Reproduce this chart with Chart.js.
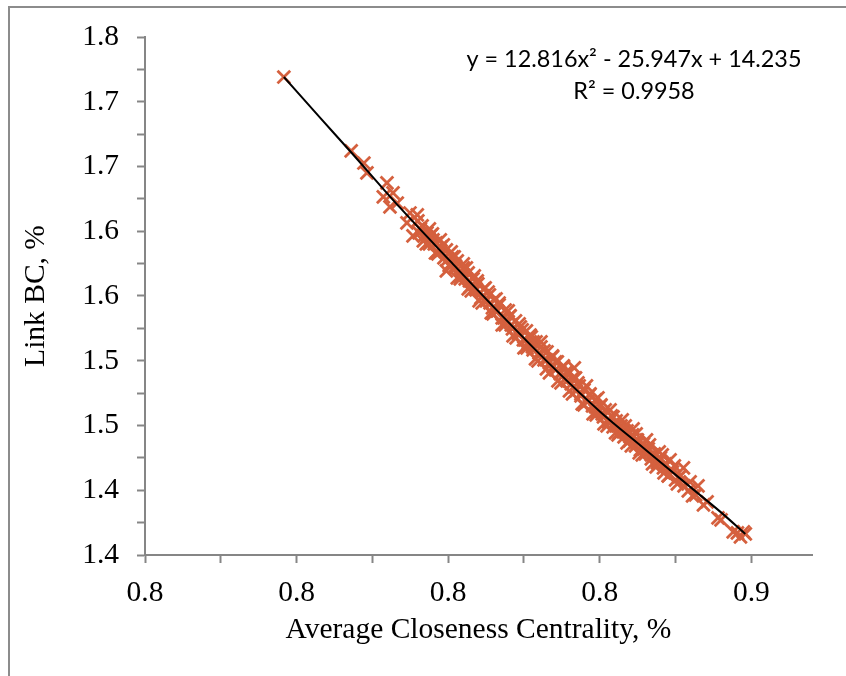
<!DOCTYPE html>
<html>
<head>
<meta charset="utf-8">
<script src="https://cdn.jsdelivr.net/npm/chart.js@4.4.1/dist/chart.umd.min.js"></script>
<style>
  html, body { margin: 0; padding: 0; background: #fff; }
  #wrap { position: relative; width: 846px; height: 676px; overflow: hidden; }
  #frame { position: absolute; left: 8px; top: 6px; right: -10px; bottom: -10px;
           border-left: 2px solid #8c8c8c; border-top: 2px solid #8c8c8c; }
  canvas { position: absolute; left: 0; top: 0; }
</style>
</head>
<body>
<div id="wrap">
  <div id="frame"></div>
  <canvas id="chart" width="846" height="676"></canvas>
</div>
<script>
// tick labels as printed on the axes (rounded to one decimal)
const xTickLabels = ['0.8', '0.8', '0.8', '0.8', '0.9'];
const yTickLabels = ['1.4', '1.4', '1.5', '1.5', '1.6', '1.6', '1.7', '1.7', '1.8'];

// Average closeness centrality (x) and link BC (y)
const closeness = [
  0.8229, 0.8340, 0.8361, 0.8366, 0.8399, 0.8409, 0.8393, 0.8404, 0.8416, 0.8437, 0.8432, 0.8442, 0.8465, 0.8475,
  0.8450, 0.8452, 0.8457, 0.8460, 0.8469, 0.8472, 0.8480, 0.8482, 0.8488, 0.8493, 0.8497, 0.8502, 0.8507, 0.8512,
  0.8515, 0.8520, 0.8525, 0.8528, 0.8533, 0.8536, 0.8541, 0.8546, 0.8549, 0.8554, 0.8559, 0.8563, 0.8568, 0.8573,
  0.8576, 0.8581, 0.8584, 0.8589, 0.8594, 0.8597, 0.8602, 0.8606, 0.8611, 0.8615, 0.8619, 0.8624, 0.8629, 0.8632,
  0.8637, 0.8640, 0.8645, 0.8650, 0.8653, 0.8658, 0.8663, 0.8667, 0.8672, 0.8677, 0.8680, 0.8685, 0.8690, 0.8693,
  0.8698, 0.8703, 0.8706, 0.8711, 0.8708, 0.8716, 0.8719, 0.8724, 0.8729, 0.8733, 0.8738, 0.8743, 0.8746, 0.8751,
  0.8756, 0.8759, 0.8764, 0.8769, 0.8772, 0.8777, 0.8782, 0.8785, 0.8790, 0.8795, 0.8799, 0.8804, 0.8809, 0.8812,
  0.8817, 0.8822, 0.8825, 0.8830, 0.8835, 0.8840, 0.8845, 0.8850, 0.8855, 0.8858, 0.8863, 0.8868, 0.8875, 0.8883,
  0.8889, 0.8899, 0.8896, 0.8908, 0.8921, 0.8927, 0.8945, 0.8950, 0.8970, 0.8977, 0.8987, 0.8982, 0.8990,
  0.8454, 0.8465, 0.8477, 0.8488, 0.8500, 0.8512, 0.8523, 0.8535, 0.8546, 0.8558, 0.8569, 0.8581, 0.8592, 0.8604,
  0.8615, 0.8627, 0.8639, 0.8650, 0.8662, 0.8673, 0.8685, 0.8696, 0.8708, 0.8719, 0.8731, 0.8743, 0.8754, 0.8766,
  0.8777, 0.8789, 0.8800, 0.8812, 0.8823, 0.8835, 0.8846, 0.8858, 0.8870, 0.8881,
  0.8449, 0.8459, 0.8469, 0.8479, 0.8487, 0.8497, 0.8505, 0.8515, 0.8525, 0.8533, 0.8543, 0.8551, 0.8561, 0.8571,
  0.8579, 0.8589, 0.8599, 0.8607, 0.8617, 0.8625, 0.8635, 0.8644, 0.8653, 0.8662, 0.8672, 0.8681, 0.8690, 0.8700,
  0.8710, 0.8721, 0.8728, 0.8739, 0.8747, 0.8757, 0.8767, 0.8776, 0.8787, 0.8795, 0.8805, 0.8815, 0.8827, 0.8837,
  0.8848, 0.8856, 0.8866, 0.8878, 0.8888, 0.8903, 0.8912,
  0.8464, 0.8474, 0.8483, 0.8492, 0.8502, 0.8510, 0.8520, 0.8530, 0.8538, 0.8548, 0.8556, 0.8566, 0.8574, 0.8584,
  0.8594, 0.8602, 0.8612, 0.8622, 0.8630, 0.8640, 0.8648, 0.8658, 0.8667, 0.8677, 0.8686, 0.8695, 0.8705, 0.8714,
  0.8724, 0.8734, 0.8744, 0.8752, 0.8762, 0.8772, 0.8780, 0.8792, 0.8802, 0.8810, 0.8820, 0.8832, 0.8843, 0.8853,
  0.8863, 0.8873
];
const linkBC = [
  1.7691, 1.7120, 1.7027, 1.6950, 1.6873, 1.6796, 1.6765, 1.6688, 1.6718, 1.6641, 1.6564, 1.6464, 1.6487, 1.6433,
  1.6580, 1.6487, 1.6541, 1.6464, 1.6402, 1.6471, 1.6410, 1.6340, 1.6379, 1.6294, 1.6356, 1.6240, 1.6302, 1.6217,
  1.6271, 1.6155, 1.6217, 1.6132, 1.6178, 1.6070, 1.6132, 1.6047, 1.6093, 1.5985, 1.6055, 1.5962, 1.6008, 1.5908,
  1.5970, 1.5885, 1.5931, 1.5831, 1.5892, 1.5800, 1.5846, 1.5746, 1.5808, 1.5715, 1.5761, 1.5661, 1.5730, 1.5638,
  1.5684, 1.5584, 1.5645, 1.5560, 1.5607, 1.5506, 1.5568, 1.5483, 1.5530, 1.5429, 1.5491, 1.5406, 1.5452, 1.5360,
  1.5406, 1.5321, 1.5367, 1.5267, 1.5445, 1.5306, 1.5229, 1.5275, 1.5182, 1.5236, 1.5151, 1.5198, 1.5097, 1.5151,
  1.5066, 1.5120, 1.5028, 1.5074, 1.4989, 1.5036, 1.4943, 1.4997, 1.4912, 1.4958, 1.4881, 1.4927, 1.4843, 1.4889,
  1.4812, 1.4858, 1.4781, 1.4819, 1.4742, 1.4781, 1.4711, 1.4750, 1.4673, 1.4704, 1.4611, 1.4657, 1.4580, 1.4611,
  1.4534, 1.4565, 1.4495, 1.4464, 1.4387, 1.4410, 1.4287, 1.4271, 1.4179, 1.4171, 1.4179, 1.4140, 1.4163,
  1.6518, 1.6456, 1.6402, 1.6348, 1.6286, 1.6232, 1.6170, 1.6116, 1.6055, 1.6001, 1.5946, 1.5885, 1.5831, 1.5777,
  1.5715, 1.5661, 1.5607, 1.5560, 1.5506, 1.5452, 1.5398, 1.5344, 1.5298, 1.5244, 1.5190, 1.5144, 1.5090, 1.5043,
  1.4997, 1.4951, 1.4912, 1.4866, 1.4819, 1.4773, 1.4727, 1.4688, 1.4642, 1.4603,
  1.6626, 1.6425, 1.6518, 1.6332, 1.6433, 1.6194, 1.6340, 1.6139, 1.6248, 1.6055, 1.6155, 1.5962, 1.6062, 1.5869,
  1.5977, 1.5777, 1.5885, 1.5692, 1.5784, 1.5599, 1.5699, 1.5514, 1.5645, 1.5437, 1.5537, 1.5344, 1.5460, 1.5267,
  1.5367, 1.5167, 1.5306, 1.5090, 1.5213, 1.5012, 1.5120, 1.4943, 1.5043, 1.4866, 1.4974, 1.4788, 1.4889, 1.4704,
  1.4796, 1.4634, 1.4734, 1.4549, 1.4673, 1.4457, 1.4534,
  1.6402, 1.6479, 1.6325, 1.6394, 1.6232, 1.6302, 1.6132, 1.6217, 1.6039, 1.6116, 1.5946, 1.6031, 1.5862, 1.5946,
  1.5777, 1.5846, 1.5676, 1.5738, 1.5599, 1.5645, 1.5499, 1.5576, 1.5406, 1.5491, 1.5329, 1.5414, 1.5244, 1.5329,
  1.5159, 1.5244, 1.5082, 1.5159, 1.4997, 1.5066, 1.4927, 1.4997, 1.4843, 1.4935, 1.4773, 1.4850, 1.4680, 1.4773,
  1.4611, 1.4688
];

// polynomial trend line
const trendX = [0.8229, 0.8289, 0.8338, 0.8421, 0.8503, 0.8586, 0.8668, 0.8751, 0.8822, 0.8899, 0.8949, 0.8990];
const trendY = [1.7691, 1.7375, 1.7120, 1.6680, 1.6271, 1.5862, 1.5472, 1.5105, 1.4827, 1.4526, 1.4333, 1.4163];

const equationLines = ['y = 12.816x\u00B2 - 25.947x + 14.235', 'R\u00B2 = 0.9958'];

const serif = "'Liberation Serif', 'Times New Roman', serif";
const axisGrey = '#868686';
const markerColor = '#D5603E';

const scatterPoints = closeness.map((x, i) => ({ x: x, y: linkBC[i] }));
const trendPoints = trendX.map((x, i) => ({ x: x, y: trendY[i] }));

const equationPlugin = {
    id: 'equation',
    afterDraw(chart) {
        const ctx = chart.ctx;
        const area = chart.chartArea;
        ctx.save();
        ctx.fillStyle = '#000';
        ctx.font = "23.4px Lato, 'Noto Sans', sans-serif";
        ctx.textAlign = 'center';
        ctx.textBaseline = 'middle';
        const cx = area.right - 178;
        ctx.fillText(equationLines[0], cx, area.top + 22);
        ctx.fillText(equationLines[1], cx, area.top + 54);
        ctx.restore();
    }
};

function everyOther(labels) {
    return (value, index) => (index % 2 === 0 ? labels[index / 2] : '');
}

new Chart(document.getElementById('chart'), {
    type: 'scatter',
    data: {
        datasets: [{
            label: 'Trend',
            data: trendPoints,
            showLine: true,
            borderColor: '#000',
            borderWidth: 2,
            pointRadius: 0,
            cubicInterpolationMode: 'monotone',
            fill: false
        }, {
            label: 'Link BC',
            data: scatterPoints,
            pointStyle: 'crossRot',
            pointRadius: 9,
            borderColor: markerColor,
            backgroundColor: markerColor,
            borderWidth: 2.8
        }]
    },
    options: {
        responsive: false,
        animation: false,
        layout: { padding: { left: 0, top: 37, right: 34, bottom: 0 } },
        plugins: {
            legend: { display: false },
            tooltip: { enabled: false }
        },
        scales: {
            x: {
                type: 'linear',
                min: 0.8,
                max: 0.91,
                afterFit: s => { s.height = 121; },
                ticks: {
                    stepSize: 0.0125,
                    includeBounds: false,
                    autoSkip: false,
                    maxRotation: 0,
                    color: '#000',
                    padding: 13,
                    font: { family: serif, size: 29.5 },
                    callback: everyOther(xTickLabels)
                },
                grid: { drawOnChartArea: false, drawTicks: true, tickLength: 8, tickColor: axisGrey, tickWidth: 2 },
                border: { color: axisGrey, width: 2 },
                title: {
                    display: true,
                    text: 'Average Closeness Centrality, %',
                    color: '#000',
                    font: { family: serif, size: 29.5 },
                    padding: { top: 0, bottom: 28 }
                }
            },
            y: {
                type: 'linear',
                min: 1.4,
                max: 1.8,
                afterFit: s => { s.width = 145; },
                ticks: {
                    stepSize: 0.025,
                    autoSkip: false,
                    color: '#000',
                    padding: 18,
                    font: { family: serif, size: 29.5 },
                    callback: everyOther(yTickLabels)
                },
                grid: { drawOnChartArea: false, drawTicks: true, tickLength: 8, tickColor: axisGrey, tickWidth: 2 },
                border: { color: axisGrey, width: 2 },
                title: {
                    display: true,
                    text: 'Link BC, %',
                    color: '#000',
                    font: { family: serif, size: 29.5 },
                    padding: { top: 19, bottom: 0 }
                }
            }
        }
    },
    plugins: [equationPlugin]
});
</script>
</body>
</html>
